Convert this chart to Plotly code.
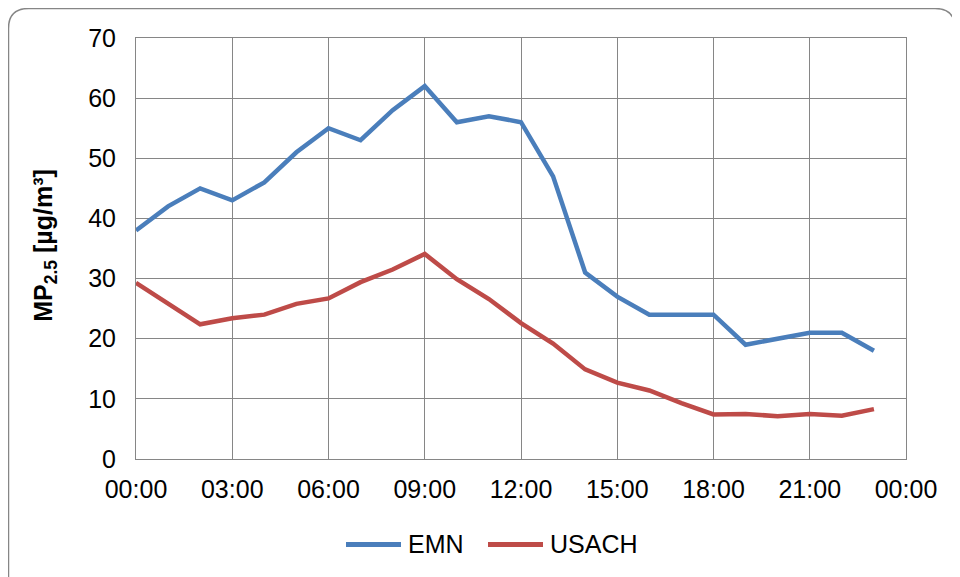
import plotly.graph_objects as go

hours = list(range(24))
emn = [38, 42, 45, 43, 46, 51, 55, 53, 58, 62, 56, 57, 56, 47, 31, 27, 24, 24, 24, 19, 20, 21, 21, 18]
usach = [29.3, 25.9, 22.4, 23.4, 24.0, 25.8, 26.7, 29.4, 31.5, 34.1, 29.9, 26.6, 22.6, 19.2, 14.9, 12.7, 11.4, 9.3, 7.4, 7.5, 7.1, 7.5, 7.2, 8.3]
x_tickvals = [0, 3, 6, 9, 12, 15, 18, 21, 24]
x_ticktext = ["00:00", "03:00", "06:00", "09:00", "12:00", "15:00", "18:00", "21:00", "00:00"]
series_names = ["EMN", "USACH"]
series_colors = ["#4A7EBB", "#BE4B48"]

# page has an 8px body margin; figure sized so it ends at the window edge
W, H = 952, 569
L, R, T, B = 128, 54, 30, 117.5
pw, ph = W - L - R, H - T - B
FONT = "Liberation Sans, Arial"
FS = 25

fig = go.Figure()
for name, vals, col in zip(series_names, [emn, usach], series_colors):
    fig.add_trace(go.Scatter(x=hours, y=vals, mode="lines", name=name,
                             line=dict(color=col, width=4.5), showlegend=False))

def px(xp):
    return (xp - L) / pw

def py(yp):
    return (H - B - yp) / ph

# rounded chart border
x0, x1, y0, y1 = px(0.5), px(947), py(0.5), py(600)
r = 20
dx, dy = r / pw, r / ph
path = (f"M {x0},{y1} L {x0},{y0 - dy} Q {x0},{y0} {x0 + dx},{y0} "
        f"L {x1 - dx},{y0} Q {x1},{y0} {x1},{y0 - dy} L {x1},{y1}")
fig.add_shape(type="path", path=path, xref="paper", yref="paper",
              line=dict(color="#868686", width=1.5), layer="below")

# custom legend (long line samples like the original)
leg_y = py(537)
leg_items = [(338, 393, 398), (480, 535, 540)]
for (lx0, lx1, tx), name, col in zip(leg_items, series_names, series_colors):
    fig.add_shape(type="line", xref="paper", yref="paper",
                  x0=px(lx0), x1=px(lx1), y0=leg_y, y1=leg_y,
                  line=dict(color=col, width=5))
    fig.add_annotation(text=name, xref="paper", yref="paper", x=px(tx), y=leg_y,
                       xanchor="left", yanchor="middle", showarrow=False,
                       font=dict(family=FONT, size=FS, color="#000000"))

axis_common = dict(showline=True, linecolor="#868686", linewidth=1, mirror=True,
                   showgrid=True, gridcolor="#868686", gridwidth=1, zeroline=False,
                   tickfont=dict(family=FONT, size=FS, color="#000000"))

fig.update_xaxes(range=[0, 24], tickvals=x_tickvals, ticktext=x_ticktext,
                 ticks="", ticklabelstandoff=8, **axis_common)
fig.update_yaxes(range=[0, 70], dtick=10, ticks="", ticklabelstandoff=14,
                 **axis_common)

fig.add_annotation(text="<b>MP<sub>2.5</sub> [µg/m³]</b>", textangle=-90,
                   xref="paper", yref="paper", x=px(37), y=py(238),
                   xanchor="center", yanchor="middle", showarrow=False,
                   font=dict(family=FONT, size=FS, color="#000000"))

fig.update_layout(
    width=W, height=H,
    margin=dict(l=L, r=R, t=T, b=B, autoexpand=False),
    paper_bgcolor="white", plot_bgcolor="white",
    showlegend=False,
)

fig.write_html("out.html")
